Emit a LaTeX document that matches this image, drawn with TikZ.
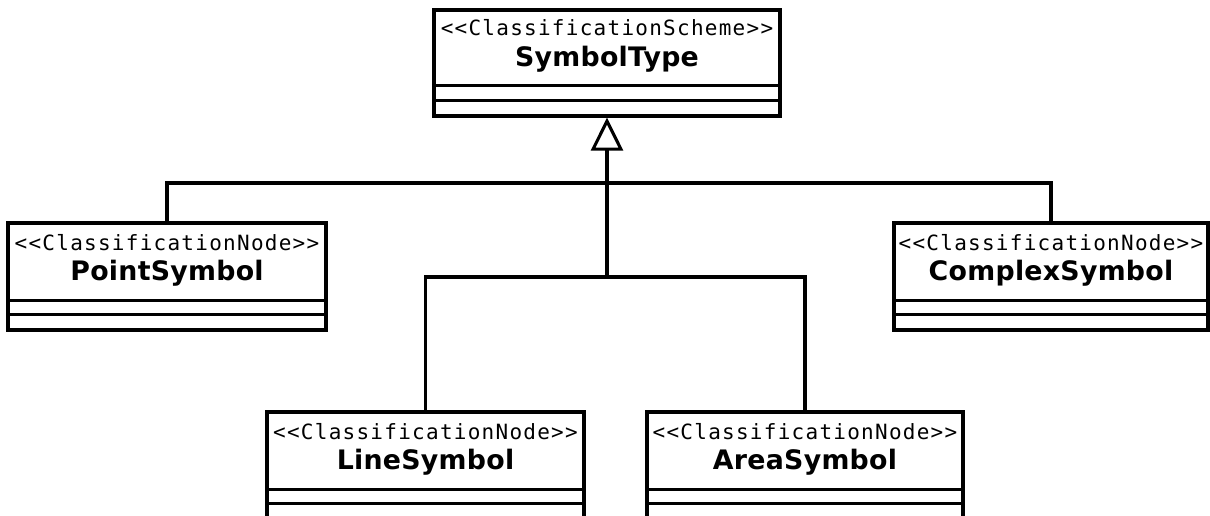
\documentclass[tikz,border=0pt]{standalone}
\usepackage{fontspec}
\usetikzlibrary{arrows.meta,calc}
\newfontfamily\stereofont[LetterSpace=6]{DejaVu Sans Mono}
\newfontfamily\namefont[LetterSpace=1]{DejaVu Sans}
\begin{document}
\begin{tikzpicture}[x=1pt,y=-1pt,
  umlbox/.style={draw=black, line width=3.2pt, fill=white, inner sep=0pt, minimum height=107pt},
  sepline/.style={draw=black, line width=3.2pt},
  stereo/.style={anchor=base, inner sep=0pt, font=\stereofont\fontsize{21}{21}\selectfont},
  cname/.style={anchor=base, inner sep=0pt, font=\namefont\bfseries\fontsize{26.8}{27}\selectfont},
  conn/.style={draw=black, line width=3.1pt},
  gen/.style={draw=black, line width=4pt, -{Triangle[open, width=32pt, length=33pt, line width=3.1pt]}}
]
\useasboundingbox (0,0) rectangle (1210,515);
\fill[white] (0,0) rectangle (1210,515);
\clip (0,0) rectangle (1210,515);

% boxes
\node[umlbox, minimum width=346pt, minimum height=106pt] (st) at (607,63) {};
\node[umlbox, minimum width=318pt] (ps) at (167,276.5) {};
\node[umlbox, minimum width=314pt] (cs) at (1051,276.5) {};
\node[umlbox, minimum width=317pt] (ls) at (425.5,465.5) {};
\node[umlbox, minimum width=316pt] (as) at (805,465.5) {};

% separators
\draw[sepline] ($(st.north west)+(0,77)$) -- ($(st.north east)+(0,77)$);
\draw[sepline] ($(st.north west)+(0,92)$) -- ($(st.north east)+(0,92)$);
\foreach \b in {ps,cs,ls,as}{
  \draw[sepline] ($(\b.north west)+(0,79)$) -- ($(\b.north east)+(0,79)$);
  \draw[sepline] ($(\b.north west)+(0,93)$) -- ($(\b.north east)+(0,93)$);
}

% texts
\node[stereo] (st-s) at ($(st.north)+(0,27.5)$) {<<ClassificationScheme>>};
\node[cname]  (st-n) at ($(st.north)+(0,58.5)$) {SymbolType};
\node[stereo] (ps-s) at ($(ps.north)+(0,29)$) {<<ClassificationNode>>};
\node[cname]  (ps-n) at ($(ps.north)+(0,59.5)$) {PointSymbol};
\node[stereo] (cs-s) at ($(cs.north)+(0,29)$) {<<ClassificationNode>>};
\node[cname]  (cs-n) at ($(cs.north)+(0,59.5)$) {ComplexSymbol};
\node[stereo] (ls-s) at ($(ls.north)+(0,29)$) {<<ClassificationNode>>};
\node[cname]  (ls-n) at ($(ls.north)+(0,59.5)$) {LineSymbol};
\node[stereo] (as-s) at ($(as.north)+(0,29)$) {<<ClassificationNode>>};
\node[cname]  (as-n) at ($(as.north)+(0,59.5)$) {AreaSymbol};

% connectors
\coordinate (j1) at (607,277);
\coordinate (j2) at (607,183);
\draw[conn] (ps.north) |- (j2) -| (cs.north);
\draw[conn] (ls.north) |- (j1) -| (as.north);
\draw[gen] (j1) -- (st.south);
\end{tikzpicture}
\end{document}
